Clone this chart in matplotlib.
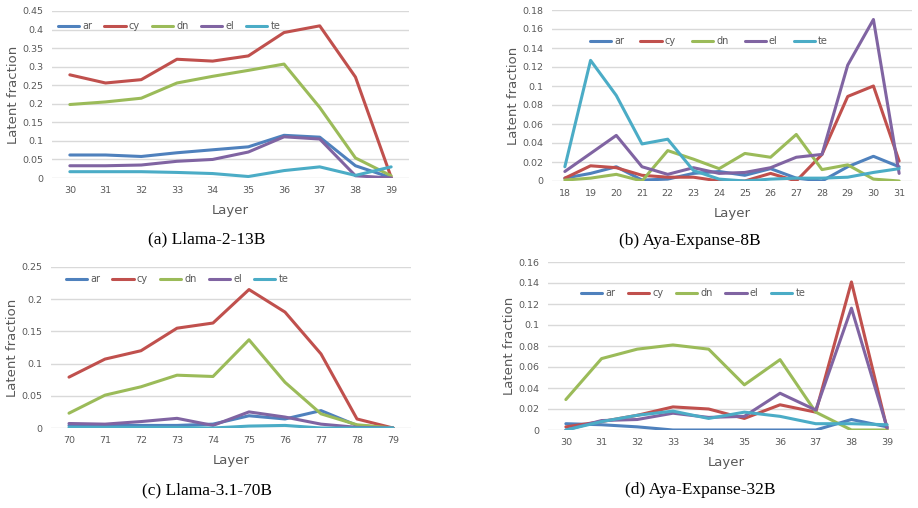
import numpy as np
import matplotlib
matplotlib.use("Agg")
import matplotlib.pyplot as plt

langs = ["ar", "cy", "dn", "el", "te"]
colors = ["#4F81BD", "#C0504D", "#9BBB59", "#8064A2", "#4BACC6"]

# (a) Llama-2-13B
layers_a = list(range(30, 40))
vals_a = {
    "ar": [0.062, 0.062, 0.058, 0.068, 0.076, 0.084, 0.115, 0.110, 0.033, 0.001],
    "cy": [0.278, 0.256, 0.265, 0.320, 0.315, 0.329, 0.392, 0.410, 0.272, 0.002],
    "dn": [0.198, 0.205, 0.215, 0.256, 0.274, 0.290, 0.307, 0.190, 0.054, 0.006],
    "el": [0.033, 0.033, 0.035, 0.045, 0.050, 0.070, 0.111, 0.105, 0.006, 0.0],
    "te": [0.017, 0.017, 0.017, 0.015, 0.012, 0.004, 0.020, 0.030, 0.007, 0.030],
}

# (b) Aya-Expanse-8B
layers_b = list(range(18, 32))
vals_b = {
    "ar": [0.003, 0.008, 0.015, 0.001, 0.002, 0.008, 0.010, 0.006, 0.013, 0.003, 0.0, 0.015, 0.026, 0.015],
    "cy": [0.003, 0.016, 0.014, 0.006, 0.004, 0.004, 0.0, 0.0, 0.008, 0.0, 0.028, 0.089, 0.100, 0.021],
    "dn": [0.001, 0.003, 0.007, 0.0, 0.032, 0.023, 0.013, 0.029, 0.025, 0.049, 0.012, 0.017, 0.002, 0.0],
    "el": [0.010, 0.029, 0.048, 0.015, 0.007, 0.014, 0.008, 0.009, 0.014, 0.025, 0.028, 0.122, 0.170, 0.008],
    "te": [0.015, 0.127, 0.090, 0.039, 0.044, 0.011, 0.002, 0.0, 0.002, 0.003, 0.003, 0.004, 0.009, 0.013],
}

# (c) Llama-3.1-70B
layers_c = list(range(70, 80))
vals_c = {
    "ar": [0.004, 0.004, 0.004, 0.004, 0.006, 0.019, 0.014, 0.027, 0.004, 0.0],
    "cy": [0.079, 0.107, 0.120, 0.155, 0.163, 0.215, 0.180, 0.115, 0.014, 0.0],
    "dn": [0.023, 0.051, 0.064, 0.082, 0.080, 0.137, 0.071, 0.022, 0.005, 0.0],
    "el": [0.007, 0.006, 0.010, 0.015, 0.004, 0.025, 0.017, 0.006, 0.001, 0.0],
    "te": [0.001, 0.001, 0.001, 0.001, 0.0, 0.003, 0.004, 0.0, 0.0, 0.0],
}

# (d) Aya-Expanse-32B
layers_d = list(range(30, 40))
vals_d = {
    "ar": [0.006, 0.005, 0.003, 0.0, 0.0, 0.0, 0.0, 0.0, 0.010, 0.003],
    "cy": [0.003, 0.008, 0.014, 0.022, 0.020, 0.011, 0.024, 0.017, 0.141, 0.001],
    "dn": [0.029, 0.068, 0.077, 0.081, 0.077, 0.043, 0.067, 0.017, 0.0, 0.0],
    "el": [0.0, 0.009, 0.010, 0.016, 0.012, 0.013, 0.035, 0.019, 0.116, 0.002],
    "te": [0.0, 0.008, 0.014, 0.018, 0.011, 0.017, 0.013, 0.006, 0.006, 0.005],
}

captions = ["(a) Llama-2-13B", "(b) Aya-Expanse-8B", "(c) Llama-3.1-70B", "(d) Aya-Expanse-32B"]

W, H = 918, 508
fig = plt.figure(figsize=(W / 100, H / 100), dpi=100)

def px(l, r, t, b):
    return [l / W, 1 - b / H, (r - l) / W, (b - t) / H]

panels = [
    # layers, values, axes box (px), ymax, ystep, legend anchor (px), legend col spacing, caption pos (px)
    (layers_a, vals_a, px(52, 409, 11, 178), 0.45, 0.05, (58, 26), 1.25, (207, 239)),
    (layers_b, vals_b, px(552, 912, 10, 181), 0.18, 0.02, (590, 41), 1.65, (690, 241)),
    (layers_c, vals_c, px(51, 411, 267, 428), 0.25, 0.05, (66, 279), 1.25, (207, 490)),
    (layers_d, vals_d, px(548, 905, 262, 430), 0.16, 0.02, (581, 293), 1.3, (700, 490)),
]

tick_color = "#595959"
for (layers, vals, box, ymax, ystep, leg_xy, colsp, cap_xy), cap in zip(panels, captions):
    ax = fig.add_axes(box)
    x = np.arange(len(layers))
    for lang, col in zip(langs, colors):
        ax.plot(x, vals[lang], color=col, lw=2.2, label=lang, solid_capstyle="round")
    ax.set_xlim(-0.5, len(layers) - 0.5)
    ax.set_ylim(0, ymax)
    yt = np.round(np.arange(0, ymax + ystep / 2, ystep), 3)
    ax.set_yticks(yt)
    ax.set_yticklabels(["%g" % v for v in yt])
    ax.set_xticks(x)
    ax.set_xticklabels([str(l) for l in layers])
    ax.grid(axis="y", color="#D9D9D9", lw=1)
    ax.set_axisbelow(True)
    for s in ax.spines.values():
        s.set_visible(False)
    ax.tick_params(length=0, labelsize=6.8, colors=tick_color, pad=6)
    ax.set_ylabel("Latent fraction", fontsize=9.5, color=tick_color, labelpad=2)
    ax.set_xlabel("Layer", fontsize=9.5, color=tick_color, labelpad=6)
    ax.legend(loc="center left", bbox_to_anchor=(leg_xy[0] / W, 1 - leg_xy[1] / H),
              bbox_transform=fig.transFigure, ncol=5, frameon=False, fontsize=7,
              handlelength=2.2, handletextpad=0.3, columnspacing=colsp,
              labelcolor=tick_color, borderaxespad=0, borderpad=0)
    fig.text(cap_xy[0] / W, 1 - cap_xy[1] / H, cap, ha="center", va="center",
             fontsize=12.5, family="Liberation Serif")

fig.savefig("out.png", dpi=100)
